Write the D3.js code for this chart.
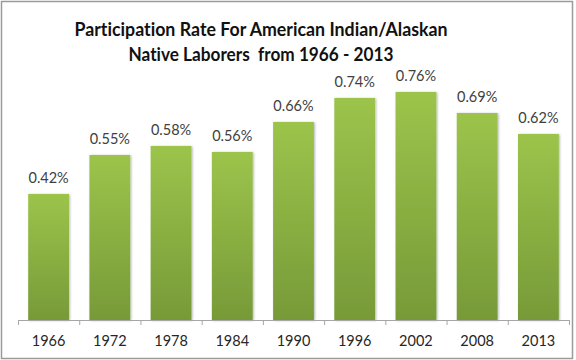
<!DOCTYPE html>
<html><head><meta charset="utf-8">
<script src="https://cdn.jsdelivr.net/npm/d3@7"></script>
<style>body{margin:0;background:#fff}svg{display:block}text{font-variant-ligatures:none;white-space:pre}</style>
</head><body>
<svg id="c" width="576" height="360"></svg>
<script>
const years = ["1966","1972","1978","1984","1990","1996","2002","2008","2013"];
const rates = [0.42,0.55,0.58,0.56,0.66,0.74,0.76,0.69,0.62];
const titleLines = ["Participation Rate For American Indian/Alaskan","Native Laborers  from 1966 - 2013"];
const titleWidths = [373, 265];

const svg = d3.select("#c");
const defs = svg.append("defs");
const grad = defs.append("linearGradient").attr("id","g").attr("x1",0).attr("y1",0).attr("x2",0).attr("y2",1);
grad.append("stop").attr("offset","0%").attr("stop-color","#9cc44b");
grad.append("stop").attr("offset","100%").attr("stop-color","#779a38");
const f = defs.append("filter").attr("id","sh").attr("x","-20%").attr("y","-5%").attr("width","140%").attr("height","110%");
f.append("feDropShadow").attr("dx",1).attr("dy",0.5).attr("stdDeviation",0.8).attr("flood-color","#000").attr("flood-opacity",0.3);

svg.append("rect").attr("x",1.5).attr("y",1.5).attr("width",571).attr("height",357)
  .attr("fill","#fff").attr("stroke","#9a9a9a").attr("stroke-width",1.5);

const x = d3.scaleBand().domain(years).range([18,569]).paddingInner(1/3).paddingOuter(1/6);
const y = d3.scaleLinear().domain([0,0.8]).range([320,80]);

svg.append("g").selectAll("rect").data(years).join("rect")
  .attr("x",d=>x(d)).attr("width",x.bandwidth())
  .attr("y",(d,i)=>y(rates[i])).attr("height",(d,i)=>y(0)-y(rates[i]))
  .attr("fill","url(#g)").attr("filter","url(#sh)");

svg.append("g").selectAll("text").data(years).join("text")
  .attr("x",d=>x(d)+x.bandwidth()/2).attr("y",(d,i)=>y(rates[i])-11)
  .attr("text-anchor","middle").attr("font-family","Lato, sans-serif").attr("font-size",14.5)
  .attr("fill","#404040").text((d,i)=>rates[i].toFixed(2)+"%");

const xb = d3.scaleLinear().domain([0,years.length]).range([18,569]);
const ax = svg.append("g").attr("transform","translate(0,320)")
  .call(d3.axisBottom(xb).tickValues(d3.range(years.length+1)).tickSize(5).tickFormat(""));
ax.selectAll("path,line").attr("stroke","#a6a6a6");
ax.select("path").attr("d","M18,0.5H569");

svg.append("g").selectAll("text").data(years).join("text")
  .attr("x",d=>x(d)+x.bandwidth()/2).attr("y",345.5)
  .attr("text-anchor","middle").attr("font-family","Lato, sans-serif").attr("font-size",14.5)
  .attr("fill","#262626").text(d=>d);

svg.append("g").selectAll("text").data(titleLines).join("text")
  .attr("x",261).attr("y",(d,i)=>35.5+i*25).attr("text-anchor","middle")
  .attr("font-family","Lato, sans-serif").attr("font-weight","bold").attr("font-size",19.5)
  .attr("textLength",(d,i)=>titleWidths[i]).attr("lengthAdjust","spacingAndGlyphs")
  .attr("fill","#111").text(d=>d);
</script>
</body></html>
